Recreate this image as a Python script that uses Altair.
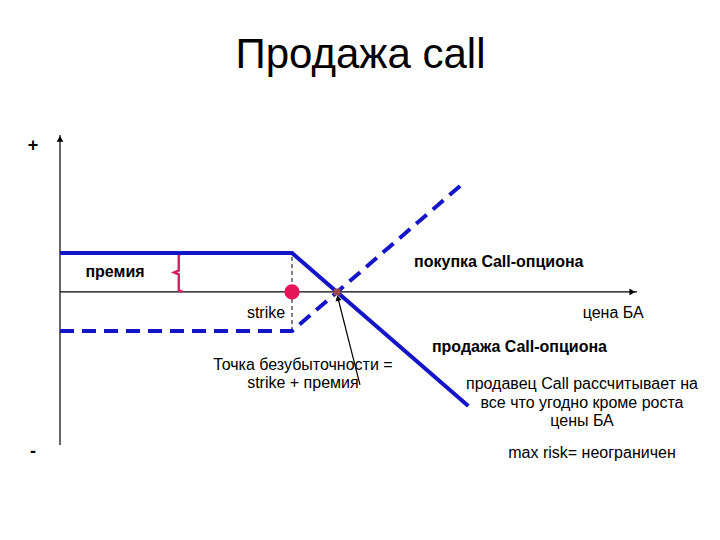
import altair as alt
import pandas as pd

# ---- data (in chart units: x = price of underlying, y = profit) ----
short_x = [0, 10, 17.6]
short_y = [2, 2, -5.85]
long_x = [0, 10, 17.5]
long_y = [-2, -2, 5.7]
strike = 10
premium = 2
breakeven = 11.94
x_max = 24.87
y_min, y_max = -7.85, 8.05

brace_x = [5.3, 5.12, 5.12, 4.92, 5.12, 5.12, 5.3]
brace_y = [2.0, 1.92, 1.1, 1.0, 0.9, 0.08, 0.0]

arrow_x = [12.93, 11.98]
arrow_y = [-4.77, -0.31]

bold_labels = ["премия", "покупка Call-опциона", "продажа Call-опциона"]
bold_x = [2.37, 15.26, 16.03]
bold_y = [1.03, 1.54, -2.82]
bold_align = ["center", "left", "left"]

norm_labels = ["strike", "цена БА", "max risk= неограничен"]
norm_x = [8.88, 23.84, 22.93]
norm_y = [-1.08, -1.08, -8.26]

be_lines = ["Точка безубыточности =", "strike + премия"]
seller_lines = ["продавец Call рассчитывает на", "все что угодно кроме роста", "цены БА"]

BLUE = "#1414c8"
FONT = "Liberation Sans"

xs = alt.Scale(domain=[0, x_max], nice=False, zero=False)
ys = alt.Scale(domain=[y_min, y_max], nice=False, zero=False)

def X(field="x"):
    return alt.X(field, type="quantitative", scale=xs, axis=None)

def Y(field="y"):
    return alt.Y(field, type="quantitative", scale=ys, axis=None)

short_df = pd.DataFrame({"x": short_x, "y": short_y, "o": range(3)})
long_df = pd.DataFrame({"x": long_x, "y": long_y, "o": range(3)})

# axes
yaxis = alt.Chart(pd.DataFrame({"x": [0], "y": [y_min], "y2": [y_max]})).mark_rule(
    color="black", strokeWidth=1.2, clip=False).encode(x=X(), y=Y(), y2="y2")
xaxis = alt.Chart(pd.DataFrame({"x": [0], "x2": [x_max], "y": [0]})).mark_rule(
    color="black", strokeWidth=1.2, clip=False).encode(x=X(), x2="x2", y=Y())
yhead = alt.Chart(pd.DataFrame({"x": [0], "y": [y_max - 0.2]})).mark_point(
    shape="triangle-up", filled=True, color="black", size=45, opacity=1, clip=False).encode(x=X(), y=Y())
xhead = alt.Chart(pd.DataFrame({"x": [x_max - 0.2], "y": [0]})).mark_point(
    shape="triangle-right", filled=True, color="black", size=45, opacity=1, clip=False).encode(x=X(), y=Y())

strike_rule = alt.Chart(pd.DataFrame({"x": [strike], "y": [-premium], "y2": [premium]})).mark_rule(
    color="black", strokeWidth=1, strokeDash=[4, 3]).encode(x=X(), y=Y(), y2="y2")

short_line = alt.Chart(short_df).mark_line(color=BLUE, strokeWidth=4, clip=False).encode(
    x=X(), y=Y(), order="o")
long_line = alt.Chart(long_df).mark_line(color=BLUE, strokeWidth=4, strokeDash=[14, 8],
                                         clip=False).encode(x=X(), y=Y(), order="o")

brace = alt.Chart(pd.DataFrame({"x": brace_x, "y": brace_y, "o": range(len(brace_x))})).mark_line(
    color="#d81e64", strokeWidth=2.5).encode(x=X(), y=Y(), order="o")

strike_dot = alt.Chart(pd.DataFrame({"x": [strike], "y": [0]})).mark_circle(
    color="#e8145a", size=230, opacity=1).encode(x=X(), y=Y())
be_sq = alt.Chart(pd.DataFrame({"x": [breakeven], "y": [0]})).mark_square(
    color="#a04848", size=45, opacity=1).encode(x=X(), y=Y())

arrow = alt.Chart(pd.DataFrame({"x": arrow_x, "y": arrow_y, "o": [0, 1]})).mark_line(
    color="black", strokeWidth=1.2).encode(x=X(), y=Y(), order="o")
arrow_head = alt.Chart(pd.DataFrame({"x": [arrow_x[1]], "y": [arrow_y[1]]})).mark_point(
    shape="triangle-up", filled=True, color="black", size=40, opacity=1, angle=346).encode(x=X(), y=Y())

bold_df = pd.DataFrame({"x": bold_x, "y": bold_y, "t": bold_labels, "a": bold_align})
bold_c = alt.Chart(bold_df[bold_df.a == "center"]).mark_text(
    font=FONT, fontSize=16, fontWeight="bold", align="center", baseline="middle", clip=False
).encode(x=X(), y=Y(), text="t")
bold_l = alt.Chart(bold_df[bold_df.a == "left"]).mark_text(
    font=FONT, fontSize=16, fontWeight="bold", align="left", baseline="middle", clip=False
).encode(x=X(), y=Y(), text="t")

norm = alt.Chart(pd.DataFrame({"x": norm_x, "y": norm_y, "t": norm_labels})).mark_text(
    font=FONT, fontSize=16, align="center", baseline="middle", clip=False
).encode(x=X(), y=Y(), text="t")

be_text = alt.Chart(pd.DataFrame({"x": [10.47] * 2, "y": [-3.74, -4.67], "t": be_lines})).mark_text(
    font=FONT, fontSize=16, align="center", baseline="middle", clip=False
).encode(x=X(), y=Y(), text="t")
seller_text = alt.Chart(pd.DataFrame({"x": [22.5] * 3, "y": [-4.72, -5.69, -6.62], "t": seller_lines})).mark_text(
    font=FONT, fontSize=16, align="center", baseline="middle", clip=False
).encode(x=X(), y=Y(), text="t")

signs = alt.Chart(pd.DataFrame({"x": [-1.16, -1.16], "y": [7.49, -8.2], "t": ["+", "-"]})).mark_text(
    font=FONT, fontSize=18, fontWeight="bold", align="center", baseline="middle", clip=False
).encode(x=X(), y=Y(), text="t")

chart = alt.layer(
    yaxis, xaxis, yhead, xhead, strike_rule, brace, long_line, short_line,
    strike_dot, be_sq, arrow, arrow_head,
    bold_c, bold_l, norm, be_text, seller_text, signs,
).properties(
    width=577, height=310,
    autosize=alt.AutoSizeParams(type="none"),
    padding={"left": 52, "top": 127, "right": 75, "bottom": 80},
    title=alt.TitleParams("Продажа call", font=FONT, fontSize=42, fontWeight="normal",
                          anchor="middle", dx=12, offset=57, color="black"),
).configure_view(stroke=None)

chart.save("out.html", embed_options={"renderer": "svg", "actions": False})
